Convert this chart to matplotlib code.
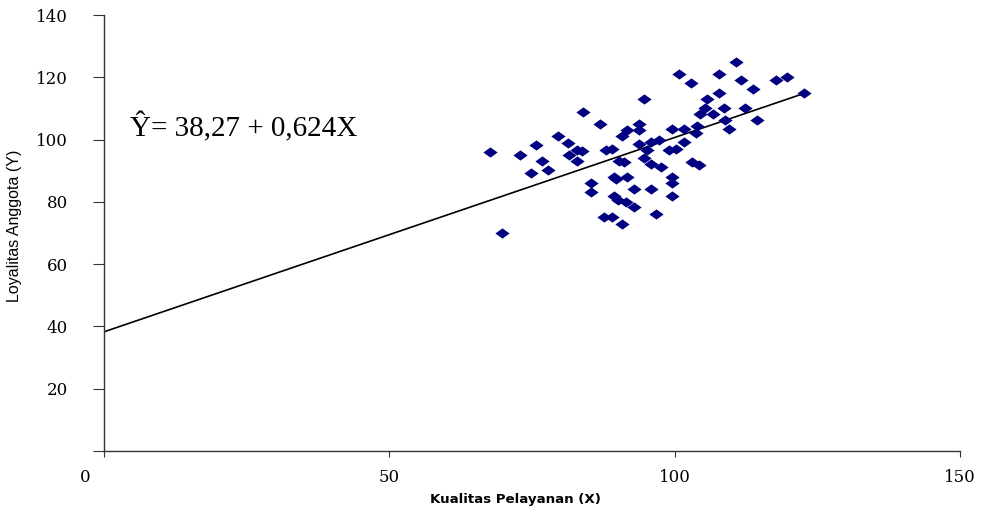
import numpy as np
import matplotlib
matplotlib.use('Agg')
import matplotlib.pyplot as plt
from matplotlib.path import Path
from matplotlib.transforms import ScaledTranslation

# data
kualitas = [67.7, 69.8, 72.9, 74.8, 75.7, 76.7, 77.8, 79.5, 81.3, 81.5,
            82.9, 82.9, 83.7, 83.9, 85.3, 85.3, 86.9, 87.9, 89.0, 90.2,
            91.1, 90.7, 89.3, 89.7, 91.6, 89.3, 90.0, 91.4, 92.8, 92.8,
            87.6, 89.0, 90.7, 91.6, 93.7, 93.7, 93.7, 94.6, 94.6, 95.1,
            95.8, 95.8, 95.8, 96.7, 97.2, 97.6, 99.5, 99.5, 99.5, 99.0,
            100.3, 99.5, 101.7, 101.6, 100.7, 102.8, 103.0, 104.2, 104.0, 103.7,
            104.5, 105.4, 105.6, 106.8, 107.7, 107.7, 108.6, 108.9, 109.6, 110.7,
            111.7, 112.4, 113.8, 114.5, 117.7, 119.6, 122.7]
loyalitas = [96.0, 70.0, 95.1, 89.3, 98.3, 93.1, 90.2, 101.2, 98.9, 95.1,
             96.7, 93.1, 96.3, 108.9, 86.1, 83.2, 105.0, 96.7, 97.0, 93.1,
             92.8, 101.2, 88.0, 87.3, 88.0, 81.9, 80.6, 80.0, 84.1, 78.4,
             75.1, 75.1, 72.9, 103.1, 105.0, 103.1, 98.6, 113.0, 94.1, 96.7,
             99.2, 92.2, 84.1, 76.1, 99.9, 91.2, 88.0, 86.1, 81.9, 96.7,
             97.0, 103.4, 103.4, 99.2, 121.1, 118.2, 92.8, 91.8, 104.4, 102.1,
             108.2, 110.1, 113.0, 108.2, 121.1, 115.0, 110.1, 106.3, 103.4, 124.9,
             119.1, 110.1, 116.2, 106.3, 119.1, 120.1, 115.0]

intercept = 38.27
slope = 0.624
line_x = [0, 123]

xticks = [0, 50, 100, 150]
yticks = [0, 20, 40, 60, 80, 100, 120, 140]

fig = plt.figure(figsize=(9.92, 5.13), dpi=100)
ax = fig.add_axes([104/992, 62/513, 856/992, 436/513])

# wide diamond marker
diamond = Path([(-1, 0), (0, 0.72), (1, 0), (0, -0.72), (-1, 0)],
               [Path.MOVETO, Path.LINETO, Path.LINETO, Path.LINETO, Path.CLOSEPOLY])
ax.scatter(kualitas, loyalitas, marker=diamond, s=105, color='#000080',
           linewidths=0, zorder=3)

lx = np.array(line_x)
ax.plot(lx, intercept + slope * lx, color='black', lw=1.2, zorder=2)

ax.set_xlim(0, 150)
ax.set_ylim(0, 140)
for s in ['top', 'right']:
    ax.spines[s].set_visible(False)
for s in ['left', 'bottom']:
    ax.spines[s].set_linewidth(1.0)
    ax.spines[s].set_color('#333333')

ax.set_xticks(xticks)
ax.set_xticklabels([str(v) for v in xticks], family='DejaVu Serif', fontsize=12)
ax.set_yticks(yticks)
ax.set_yticklabels([''] + [str(v) for v in yticks[1:]], family='DejaVu Serif', fontsize=12)
ax.tick_params(axis='x', length=4, pad=9, color='#333333')
ax.tick_params(axis='y', length=8, pad=18, color='#333333')
# the "0" sits left of the axis in the original
ax.get_xticklabels()[0].set_transform(
    ax.get_xticklabels()[0].get_transform() + ScaledTranslation(-0.19, 0, fig.dpi_scale_trans))

ax.text(4.5, 104, '\u0176= 38,27 + 0,624X',
        family='Liberation Serif', fontsize=21, va='center', ha='left')

fig.text(15/992, 1 - 226/513, 'Loyalitas Anggota (Y)', rotation=90,
         family='Liberation Sans', fontsize=11.5, va='center', ha='center')
fig.text(515/992, 1 - 500/513, 'Kualitas Pelayanan (X)',
         family='DejaVu Sans', fontweight='bold', fontsize=9.6, va='center', ha='center')

fig.savefig('out.png', dpi=100)
